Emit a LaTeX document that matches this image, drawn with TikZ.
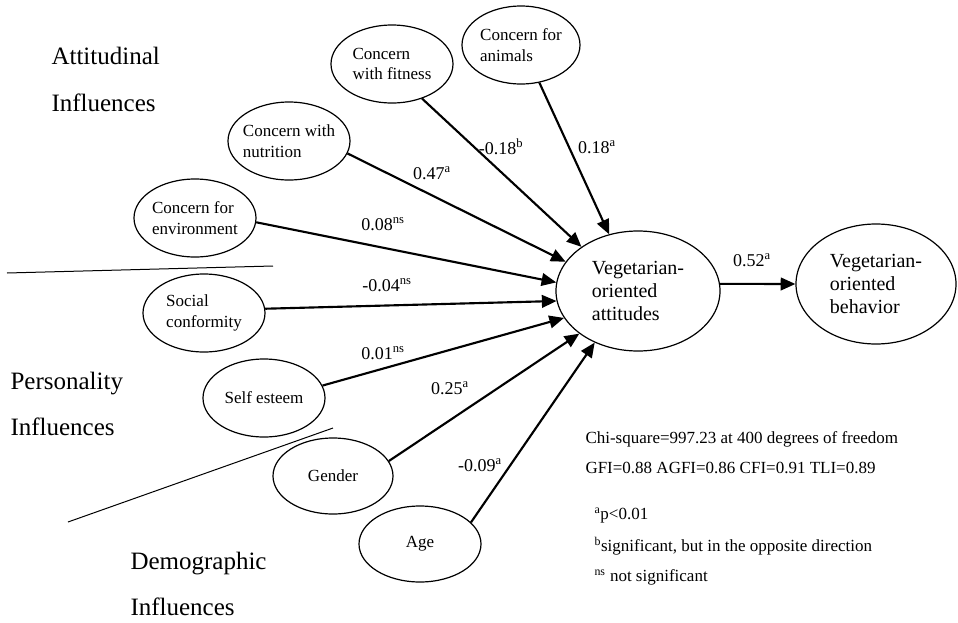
\documentclass[tikz,border=0pt]{standalone}
\usepackage{fontspec}
\setmainfont{Liberation Serif}
\usetikzlibrary{shapes.geometric,arrows.meta}

\tikzset{every picture/.style={line width=0.75pt}}
\tikzset{
  construct/.style={draw, ellipse, line width=0.9pt, inner sep=-12pt, align=left,
    minimum width=91.5pt, minimum height=58.5pt, font=\fontsize{12.75}{15.5}\selectfont},
  outcome/.style={construct, minimum width=123pt, minimum height=90pt,
    font=\fontsize{15}{17.25}\selectfont},
  effect/.style={line width=1.6pt, -{Triangle[length=11pt,width=9.5pt]}},
  coef/.style={inner sep=0pt, font=\fontsize{13.5}{16}\selectfont},
  group/.style={anchor=base west, inner sep=0pt, font=\fontsize{18.75}{22}\selectfont},
  stats/.style={anchor=base west, inner sep=0pt, font=\fontsize{12.75}{15}\selectfont},
}

\begin{document}
\begin{tikzpicture}[x=0.75pt,y=0.75pt,yscale=-1,xscale=1]
        \useasboundingbox (0,0) rectangle (958,622);

        %Shape: Ellipse (attitudinal)
        \node [construct] (fitness) at (392,64) {Concern\\with fitness};
        \node [construct, minimum width=88.5pt] (animals) at (521,45) {Concern for\\animals};
        \node [construct] (nutrition) at (289,141) {Concern with\\nutrition};
        \node [construct] (environment) at (195,218) {Concern for\\environment};
        %Shape: Ellipse (personality)
        \node [construct] (social) at (204,313) {Social\\conformity};
        \node [construct] (selfesteem) at (264,398) {Self esteem};
        %Shape: Ellipse (demographic)
        \node [construct, minimum width=90pt, minimum height=57pt] (gender) at (333,476) {Gender};
        \node [construct, minimum height=57pt] (age) at (420,544) {Age};
        %Shape: Ellipse (outcomes)
        \node [outcome] (attitudes) at (638,291) {Vegetarian-\\oriented\\attitudes};
        \node [outcome, minimum width=120pt] (behavior) at (876,284) {Vegetarian-\\oriented\\behavior};

        %Straight Lines
        \draw [effect] (animals.-64.6) -- (attitudes.117);
        \draw [effect] (fitness.-49) -- (attitudes.142.5);
        \draw [effect] (nutrition.-12) -- (attitudes.158);
        \draw [effect] (environment.-4.6) -- (attitudes.174.5);
        \draw [effect] (social.4.7) -- (attitudes.187.5);
        \draw [effect] (selfesteem.12) -- (attitudes.200);
        \draw [effect] (gender.15.5) -- (attitudes.216);
        \draw [effect] (age.23) -- (attitudes.230);
        \draw [effect] (attitudes.5) -- (behavior.west);

        %Straight Lines (group separators)
        \draw (7,273) -- (273,266);
        \draw (68,522) -- (333,428);

        % Text Node
        \node [coef] (c-animals) at (597,147) {0.18\textsuperscript{a}};
        \node [coef] (c-fitness) at (501,147) {-0.18\textsuperscript{b}};
        \node [coef] (c-nutrition) at (432,173) {0.47\textsuperscript{a}};
        \node [coef] (c-environment) at (383,224) {0.08\textsuperscript{ns}};
        \node [coef] (c-social) at (387,285) {-0.04\textsuperscript{ns}};
        \node [coef] (c-selfesteem) at (383,353) {0.01\textsuperscript{ns}};
        \node [coef] (c-gender) at (450,388) {0.25\textsuperscript{a}};
        \node [coef] (c-age) at (480,465) {-0.09\textsuperscript{a}};
        \node [coef] (c-behavior) at (752,260) {0.52\textsuperscript{a}};

        % Text Node
        \node [group] (g-att1) at (51,64) {Attitudinal};
        \node [group] (g-att2) at (51,111) {Influences};
        \node [group] (g-per1) at (10,389) {Personality};
        \node [group] (g-per2) at (10,435) {Influences};
        \node [group] (g-dem1) at (130,569) {Demographic};
        \node [group] (g-dem2) at (130,615) {Influences};

        % Text Node
        \node [stats] (chisq) at (585,443) {Chi-square=997.23 at 400 degrees of freedom};
        \node [stats] (indices) at (585,473) {GFI=0.88 AGFI=0.86 CFI=0.91 TLI=0.89};
        \node [stats] (note-a) at (594,519) {\textsuperscript{a}p<0.01};
        \node [stats] (note-b) at (594,551) {\textsuperscript{b}significant, but in the opposite direction};
        \node [stats] (note-ns) at (594,581) {\textsuperscript{ns} not significant};
\end{tikzpicture}
\end{document}
